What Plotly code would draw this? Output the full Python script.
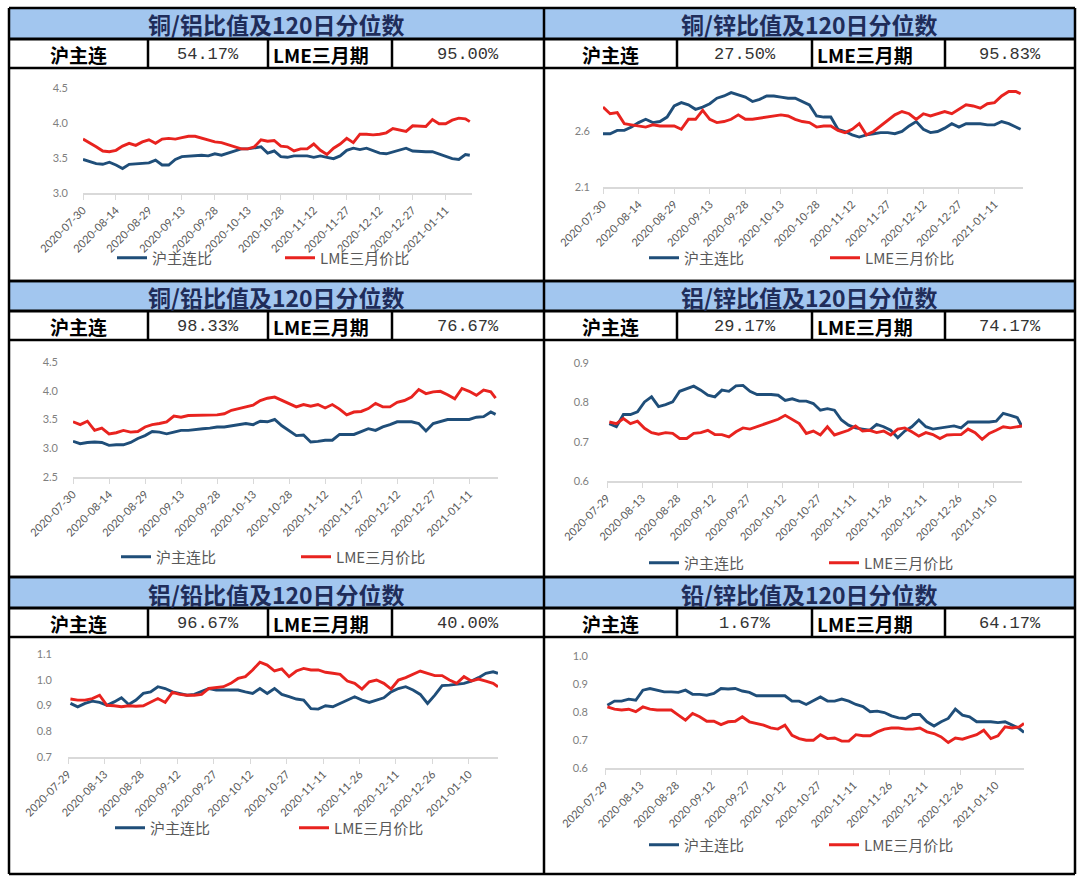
import plotly.graph_objects as go

W, H = 1080, 883

# ---------------- data ----------------
dates = ["2020-07-30","2020-08-02","2020-08-05","2020-08-08","2020-08-11","2020-08-14","2020-08-17","2020-08-20","2020-08-23","2020-08-26",
         "2020-08-29","2020-09-01","2020-09-04","2020-09-07","2020-09-10","2020-09-13","2020-09-16","2020-09-19","2020-09-22","2020-09-25",
         "2020-09-28","2020-10-01","2020-10-04","2020-10-07","2020-10-10","2020-10-13","2020-10-16","2020-10-19","2020-10-22","2020-10-25",
         "2020-10-28","2020-10-31","2020-11-03","2020-11-06","2020-11-09","2020-11-12","2020-11-15","2020-11-18","2020-11-21","2020-11-24",
         "2020-11-27","2020-11-30","2020-12-03","2020-12-06","2020-12-09","2020-12-12","2020-12-15","2020-12-18","2020-12-21","2020-12-24",
         "2020-12-27","2020-12-30","2021-01-02","2021-01-05","2021-01-08","2021-01-11","2021-01-14","2021-01-17","2021-01-20","2021-01-22"]

ticks_a = ["2020-07-30","2020-08-14","2020-08-29","2020-09-13","2020-09-28","2020-10-13",
           "2020-10-28","2020-11-12","2020-11-27","2020-12-12","2020-12-27","2021-01-11"]
ticks_b = ["2020-07-29","2020-08-13","2020-08-28","2020-09-12","2020-09-27","2020-10-12",
           "2020-10-27","2020-11-11","2020-11-26","2020-12-11","2020-12-26","2021-01-10"]

titles = ["铜/铝比值及120日分位数", "铜/锌比值及120日分位数", "铜/铅比值及120日分位数",
          "铝/锌比值及120日分位数", "铝/铅比值及120日分位数", "铅/锌比值及120日分位数"]
sh_pct = ["54.17%", "27.50%", "98.33%", "29.17%", "96.67%", "1.67%"]
lme_pct = ["95.00%", "95.83%", "76.67%", "74.17%", "40.00%", "64.17%"]

series_names = ["沪主连比", "LME三月价比"]

cu_al_sh = [3.48,3.45,3.42,3.41,3.44,3.40,3.35,3.41,3.42,3.42,
            3.43,3.47,3.40,3.40,3.48,3.52,3.53,3.53,3.54,3.53,
            3.56,3.54,3.57,3.60,3.63,3.63,3.64,3.66,3.57,3.60,
            3.52,3.51,3.53,3.53,3.53,3.51,3.53,3.51,3.49,3.53,
            3.61,3.64,3.62,3.64,3.61,3.57,3.56,3.59,3.61,3.64,
            3.60,3.59,3.59,3.59,3.56,3.52,3.49,3.48,3.55,3.54]
cu_al_lme = [3.77,3.72,3.66,3.60,3.59,3.61,3.67,3.71,3.68,3.73,
             3.76,3.71,3.77,3.78,3.77,3.79,3.81,3.81,3.78,3.75,
             3.73,3.72,3.69,3.66,3.63,3.63,3.66,3.76,3.74,3.75,
             3.67,3.66,3.60,3.63,3.63,3.70,3.61,3.55,3.64,3.70,
             3.78,3.72,3.84,3.84,3.83,3.84,3.86,3.92,3.90,3.88,
             3.96,3.95,3.95,4.05,3.99,3.99,4.04,4.07,4.06,4.02]

cu_zn_sh = [2.58,2.58,2.61,2.61,2.64,2.68,2.71,2.68,2.69,2.73,
            2.83,2.86,2.84,2.80,2.82,2.85,2.90,2.92,2.95,2.93,
            2.91,2.87,2.89,2.92,2.92,2.91,2.90,2.90,2.87,2.84,
            2.74,2.73,2.73,2.62,2.60,2.57,2.55,2.57,2.58,2.59,
            2.59,2.58,2.60,2.65,2.69,2.62,2.59,2.60,2.63,2.67,
            2.64,2.67,2.67,2.67,2.66,2.66,2.69,2.67,2.64,2.62]
cu_zn_lme = [2.82,2.76,2.77,2.67,2.66,2.65,2.64,2.66,2.65,2.65,
             2.65,2.62,2.71,2.71,2.79,2.71,2.68,2.69,2.71,2.75,
             2.71,2.71,2.72,2.73,2.74,2.75,2.74,2.71,2.69,2.68,
             2.64,2.65,2.65,2.61,2.59,2.62,2.67,2.57,2.60,2.65,
             2.70,2.75,2.78,2.76,2.71,2.76,2.74,2.76,2.78,2.76,
             2.80,2.84,2.83,2.81,2.85,2.86,2.92,2.96,2.96,2.94]

cu_pb_sh = [3.12,3.08,3.10,3.11,3.10,3.05,3.06,3.06,3.10,3.17,
            3.22,3.29,3.28,3.25,3.28,3.31,3.31,3.33,3.34,3.35,
            3.37,3.37,3.39,3.41,3.43,3.41,3.47,3.46,3.50,3.39,
            3.31,3.22,3.23,3.11,3.12,3.14,3.14,3.24,3.24,3.24,
            3.29,3.34,3.31,3.37,3.41,3.46,3.46,3.46,3.43,3.30,
            3.43,3.46,3.50,3.50,3.50,3.50,3.54,3.55,3.63,3.59]
cu_pb_lme = [3.46,3.41,3.47,3.31,3.35,3.25,3.27,3.31,3.28,3.29,
             3.37,3.41,3.43,3.46,3.56,3.54,3.57,3.57,3.58,3.57,
             3.58,3.60,3.66,3.69,3.72,3.75,3.83,3.87,3.89,3.83,
             3.78,3.72,3.76,3.73,3.76,3.70,3.76,3.68,3.58,3.63,
             3.64,3.69,3.78,3.72,3.72,3.80,3.83,3.89,4.02,3.95,
             3.98,3.99,3.93,3.86,4.04,3.99,3.92,4.01,3.98,3.87]

al_zn_sh = [0.746,0.738,0.769,0.769,0.776,0.801,0.814,0.789,0.794,0.801,
            0.828,0.835,0.841,0.831,0.818,0.814,0.831,0.828,0.842,0.843,
            0.828,0.820,0.820,0.820,0.818,0.805,0.809,0.803,0.803,0.797,
            0.780,0.784,0.780,0.755,0.742,0.735,0.732,0.729,0.744,0.738,
            0.729,0.710,0.727,0.738,0.755,0.738,0.732,0.735,0.738,0.740,
            0.735,0.750,0.750,0.750,0.750,0.752,0.772,0.767,0.761,0.738]
al_zn_lme = [0.750,0.746,0.759,0.746,0.752,0.734,0.723,0.719,0.723,0.721,
             0.708,0.708,0.721,0.723,0.729,0.718,0.718,0.712,0.725,0.735,
             0.732,0.738,0.744,0.750,0.757,0.767,0.757,0.746,0.721,0.727,
             0.717,0.738,0.717,0.723,0.729,0.740,0.727,0.729,0.723,0.727,
             0.717,0.732,0.735,0.725,0.714,0.723,0.718,0.708,0.717,0.718,
             0.718,0.732,0.723,0.706,0.721,0.729,0.738,0.735,0.738,0.740]

al_pb_sh = [0.908,0.895,0.908,0.917,0.912,0.901,0.914,0.930,0.904,0.921,
            0.947,0.953,0.973,0.966,0.953,0.947,0.940,0.943,0.953,0.966,
            0.960,0.960,0.960,0.960,0.953,0.947,0.966,0.947,0.966,0.943,
            0.934,0.925,0.921,0.888,0.886,0.899,0.895,0.908,0.921,0.934,
            0.921,0.912,0.921,0.930,0.953,0.966,0.973,0.960,0.943,0.908,
            0.940,0.977,0.979,0.982,0.986,0.995,1.008,1.025,1.031,1.025]
al_pb_lme = [0.925,0.921,0.921,0.927,0.940,0.901,0.899,0.895,0.899,0.897,
             0.899,0.914,0.927,0.912,0.951,0.943,0.940,0.940,0.943,0.966,
             0.969,0.973,0.986,1.005,1.012,1.038,1.068,1.057,1.034,1.042,
             1.012,1.034,1.044,1.038,1.038,1.029,1.025,1.021,0.995,0.986,
             0.964,0.992,0.999,0.986,0.964,0.999,1.008,1.021,1.034,1.025,
             1.016,1.016,0.999,0.986,1.012,0.995,1.003,0.995,0.986,0.973]

pb_zn_sh = [0.824,0.839,0.839,0.846,0.842,0.878,0.884,0.878,0.872,0.872,
            0.870,0.878,0.863,0.863,0.860,0.866,0.884,0.882,0.884,0.875,
            0.870,0.858,0.858,0.858,0.858,0.858,0.839,0.839,0.827,0.842,
            0.854,0.839,0.839,0.846,0.839,0.827,0.819,0.801,0.803,0.798,
            0.786,0.779,0.777,0.791,0.791,0.765,0.750,0.765,0.777,0.810,
            0.789,0.783,0.765,0.765,0.765,0.762,0.765,0.753,0.741,0.727]
pb_zn_lme = [0.818,0.810,0.807,0.810,0.801,0.818,0.810,0.807,0.807,0.807,
             0.789,0.771,0.795,0.783,0.767,0.767,0.755,0.765,0.767,0.783,
             0.765,0.759,0.753,0.743,0.739,0.753,0.717,0.705,0.699,0.699,
             0.719,0.705,0.707,0.696,0.696,0.719,0.715,0.715,0.729,0.739,
             0.743,0.743,0.739,0.739,0.743,0.729,0.723,0.711,0.691,0.707,
             0.703,0.711,0.719,0.735,0.705,0.715,0.747,0.743,0.747,0.759]

sh_series = [cu_al_sh, cu_zn_sh, cu_pb_sh, al_zn_sh, al_pb_sh, pb_zn_sh]
lme_series = [cu_al_lme, cu_zn_lme, cu_pb_lme, al_zn_lme, al_pb_lme, pb_zn_lme]
yticks = [[3.0, 3.5, 4.0, 4.5], [2.1, 2.6], [2.5, 3.0, 3.5, 4.0, 4.5],
          [0.6, 0.7, 0.8, 0.9], [0.7, 0.8, 0.9, 1.0, 1.1], [0.6, 0.7, 0.8, 0.9, 1.0]]
yranges = [[3.0, 4.5], [2.1, 3.1], [2.5, 4.5], [0.6, 0.9], [0.7, 1.1], [0.6, 1.0]]
xticks = [ticks_a, ticks_a, ticks_a, ticks_b, ticks_b, ticks_b]
xranges = [["2020-07-30", "2021-01-23"], ["2020-07-30", "2021-01-23"], ["2020-07-30", "2021-01-23"],
           ["2020-07-29", "2021-01-22"], ["2020-07-29", "2021-01-22"], ["2020-07-29", "2021-01-22"]]

# ---------------- layout geometry (pixels) ----------------
plot_px = [(83, 472, 88, 193), (603, 1023, 76, 187), (73, 498, 362, 477),
           (607, 1022, 363, 481), (68, 498, 654, 757), (605, 1024, 656, 768)]
legend_px = [(112, 258, 168), (644, 258, 181), (116, 557, 180),
             (644, 563, 180), (110, 828, 184), (644, 845, 180)]
standoff = [14, 12, 14, 17, 15, 16]

col_x = [(9, 544), (544, 1075)]
row_y = [(8, 39, 68, 281), (281, 311, 340, 577), (577, 608, 637, 874)]
dividers = [(148, 268, 392), (677, 812, 945)]

BLUE = "#1f4e79"
RED = "#e8231f"
CJK = "Noto Sans CJK SC"


def fx(x):
    return x / W


def fy(y):
    return 1 - y / H


fig = go.Figure()
layout = dict(width=W, height=H, margin=dict(l=0, r=0, t=0, b=0, pad=0, autoexpand=False),
              paper_bgcolor="white", plot_bgcolor="white", showlegend=True, template="none",
              hovermode=False)

for i in range(6):
    n = "" if i == 0 else str(i + 1)
    legname = "legend" + n
    x0, x1, yt, yb = plot_px[i]
    fig.add_trace(go.Scatter(x=dates, y=sh_series[i], mode="lines", name=series_names[0],
                             line=dict(color=BLUE, width=2.9), xaxis="x" + n, yaxis="y" + n,
                             legend=legname, hoverinfo="skip"))
    fig.add_trace(go.Scatter(x=dates, y=lme_series[i], mode="lines", name=series_names[1],
                             line=dict(color=RED, width=2.9), xaxis="x" + n, yaxis="y" + n,
                             legend=legname, hoverinfo="skip"))
    layout["xaxis" + n] = dict(domain=[fx(x0), fx(x1)], anchor="y" + n, type="date",
                               range=xranges[i], tickvals=xticks[i], ticktext=xticks[i],
                               tickangle=-45, tickfont=dict(family="Lato", size=11, color="#595959"),
                               showline=True, linecolor="#d9d9d9", linewidth=1.5,
                               ticks="outside", ticklen=5, tickcolor="#d9d9d9",
                               showgrid=False, zeroline=False, automargin=False, fixedrange=True)
    layout["yaxis" + n] = dict(domain=[fy(yb), fy(yt)], anchor="x" + n, range=yranges[i],
                               tickvals=yticks[i], tickformat=".1f",
                               tickfont=dict(family="Lato", size=11, color="#7f7f7f"),
                               showline=False, showgrid=False, zeroline=False, ticks="",
                               ticklabelstandoff=standoff[i], automargin=False, fixedrange=True)
    lx, ly, sp = legend_px[i]
    layout[legname] = dict(orientation="h", x=fx(lx), y=fy(ly), xanchor="left", yanchor="middle",
                           font=dict(family=CJK, size=15, color="#595959"),
                           entrywidth=sp - 45, entrywidthmode="pixels", borderwidth=0,
                           bgcolor="rgba(0,0,0,0)", itemclick=False, itemdoubleclick=False)

shapes = []
annotations = []
for (ya, yb_, yc, yd) in row_y:
    for (xa, xb) in col_x:
        shapes.append(dict(type="rect", xref="paper", yref="paper", x0=fx(xa), x1=fx(xb),
                           y0=fy(yb_), y1=fy(ya), fillcolor="#a2c6ef", line=dict(width=0), layer="below"))
for (ya, yb_, yc, yd) in row_y:
    for yy, wdt in ((ya, 2.5), (yb_, 3), (yc, 2.5), (yd, 2.5)):
        shapes.append(dict(type="line", xref="paper", yref="paper", x0=fx(9), x1=fx(1075),
                           y0=fy(yy), y1=fy(yy), line=dict(color="black", width=wdt)))
for xx in (9, 544, 1075):
    shapes.append(dict(type="line", xref="paper", yref="paper", x0=fx(xx), x1=fx(xx),
                       y0=fy(8), y1=fy(874), line=dict(color="black", width=2.5)))
for (ya, yb_, yc, yd) in row_y:
    for col in dividers:
        for xx in col:
            shapes.append(dict(type="line", xref="paper", yref="paper", x0=fx(xx), x1=fx(xx),
                               y0=fy(yb_), y1=fy(yc), line=dict(color="black", width=2.5)))

for i in range(6):
    r, c = i // 2, i % 2
    ya, yb_, yc, yd = row_y[r]
    xa, xb = col_x[c]
    d1, d2, d3 = dividers[c]
    annotations.append(dict(text="<b>" + titles[i] + "</b>", x=fx((xa + xb) / 2), y=fy((ya + yb_) / 2 + 1),
                            xref="paper", yref="paper", showarrow=False, xanchor="center", yanchor="middle",
                            font=dict(family=CJK, size=23, color="#1f2d5a")))
    ty = fy((yb_ + yc) / 2 + 1)
    annotations.append(dict(text="<b>沪主连</b>", x=fx((xa + d1) / 2), y=ty, xref="paper", yref="paper",
                            showarrow=False, xanchor="center", yanchor="middle",
                            font=dict(family=CJK, size=19, color="black")))
    annotations.append(dict(text=sh_pct[i], x=fx((d1 + d2) / 2), y=ty, xref="paper", yref="paper",
                            showarrow=False, xanchor="center", yanchor="middle",
                            font=dict(family="Liberation Mono", size=17, color="#333333")))
    annotations.append(dict(text="<b>LME三月期</b>", x=fx(d2 + 3), y=ty, xref="paper", yref="paper",
                            showarrow=False, xanchor="left", yanchor="middle",
                            font=dict(family=CJK, size=19, color="black")))
    annotations.append(dict(text=lme_pct[i], x=fx((d3 + xb) / 2), y=ty, xref="paper", yref="paper",
                            showarrow=False, xanchor="center", yanchor="middle",
                            font=dict(family="Liberation Mono", size=17, color="#333333")))

layout["shapes"] = shapes
layout["annotations"] = annotations
fig.update_layout(**layout)
fig.write_html("out.html", config={"displayModeBar": False, "staticPlot": False},
               post_script="document.body.style.margin='0px';document.body.style.padding='0px';"
                           "document.body.style.overflow='hidden';")
